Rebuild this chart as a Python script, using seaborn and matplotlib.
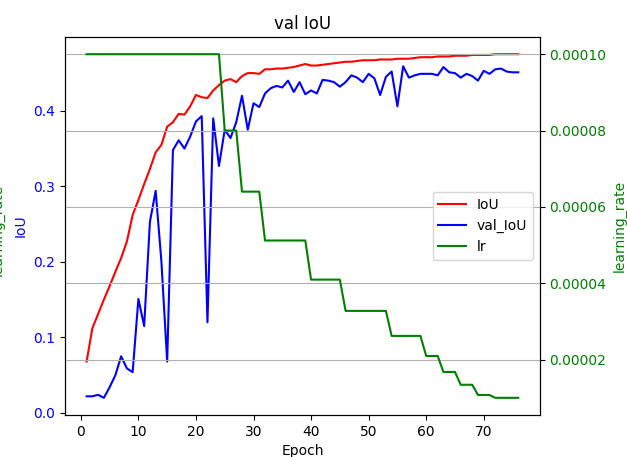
import numpy as np
import pandas as pd
import matplotlib
matplotlib.use("Agg")
import matplotlib.pyplot as plt
import seaborn as sns
from matplotlib.ticker import FormatStrFormatter

epochs = list(range(1, 77))

iou = [0.068, 0.112, 0.131, 0.150, 0.168, 0.187, 0.205, 0.227, 0.262, 0.282,
       0.303, 0.323, 0.345, 0.355, 0.379, 0.385, 0.396, 0.395, 0.406, 0.421,
       0.418, 0.417, 0.427, 0.434, 0.440, 0.442, 0.438, 0.446, 0.450, 0.450,
       0.449, 0.455, 0.455, 0.456, 0.456, 0.457, 0.458, 0.460, 0.462, 0.460,
       0.460, 0.461, 0.462, 0.463, 0.464, 0.465, 0.465, 0.466, 0.467, 0.467,
       0.467, 0.468, 0.468, 0.468, 0.469, 0.469, 0.469, 0.470, 0.471, 0.471,
       0.471, 0.472, 0.472, 0.472, 0.473, 0.473, 0.473, 0.474, 0.474, 0.474,
       0.474, 0.475, 0.475, 0.475, 0.475, 0.475]

val_iou = [0.022, 0.022, 0.024, 0.020, 0.034, 0.050, 0.075, 0.059, 0.054, 0.151,
           0.115, 0.253, 0.294, 0.200, 0.068, 0.348, 0.361, 0.350, 0.366, 0.386,
           0.393, 0.120, 0.390, 0.327, 0.375, 0.364, 0.385, 0.420, 0.375, 0.410,
           0.405, 0.423, 0.430, 0.433, 0.431, 0.440, 0.425, 0.438, 0.422, 0.427,
           0.423, 0.441, 0.440, 0.438, 0.432, 0.438, 0.447, 0.444, 0.438, 0.449,
           0.443, 0.421, 0.445, 0.452, 0.406, 0.459, 0.444, 0.447, 0.449, 0.449,
           0.449, 0.447, 0.458, 0.451, 0.450, 0.444, 0.449, 0.446, 0.440, 0.453,
           0.449, 0.455, 0.456, 0.452, 0.451, 0.451]

lr = ([1e-4] * 24 + [8e-5] * 3 + [6.4e-5] * 4 + [5.12e-5] * 8 + [4.096e-5] * 6
      + [3.2768e-5] * 8 + [2.62144e-5] * 6 + [2.097152e-5] * 3 + [1.6777e-5] * 3
      + [1.34218e-5] * 3 + [1.07374e-5] * 3 + [1e-5] * 5)

fig, ax1 = plt.subplots(figsize=(6.27, 4.57), dpi=100)
fig.subplots_adjust(left=0.1037, right=0.861, top=0.919, bottom=0.0919)

sns.lineplot(x=epochs, y=iou, color="r", label="IoU", ax=ax1, legend=False)
sns.lineplot(x=epochs, y=val_iou, color="b", label="val_IoU", ax=ax1, legend=False)
ax1.set_xlabel("Epoch")
ax1.set_ylabel("IoU", color="b")
ax1.tick_params(axis="y", labelcolor="b")
ax1.set_title("val IoU")

ax2 = ax1.twinx()
sns.lineplot(x=epochs, y=lr, color="g", label="lr", ax=ax2, legend=False)
ax2.set_ylabel("learning_rate", color="g")
ax2.tick_params(axis="y", labelcolor="g")
ax2.yaxis.set_major_formatter(FormatStrFormatter("%.5f"))
ax2.grid(axis="y")

# left-edge label, mostly cut off like in the original
fig.text(0.0075, 0.497, "learning_rate", rotation=90, color="g",
         ha="right", va="center", fontsize=10)

h1, l1 = ax1.get_legend_handles_labels()
h2, l2 = ax2.get_legend_handles_labels()
ax2.legend(h1 + h2, l1 + l2, loc="center right")

plt.savefig("out.png", dpi=100)
